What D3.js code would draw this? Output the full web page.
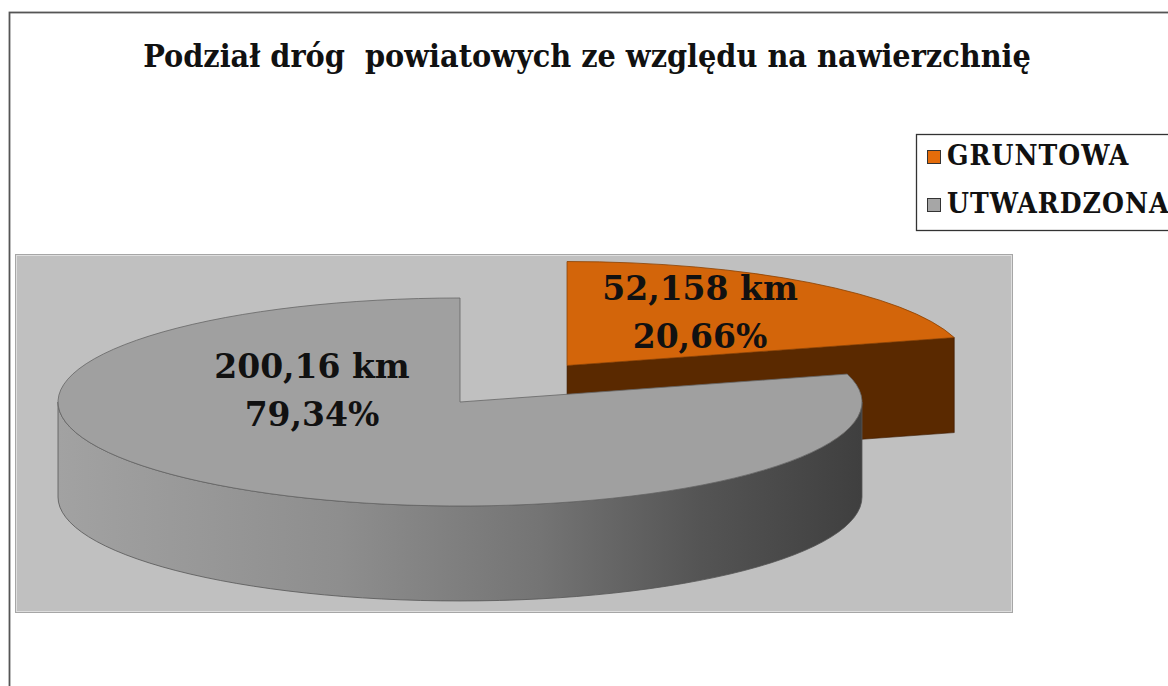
<!DOCTYPE html>
<html>
<head>
<meta charset="utf-8">
<script src="https://cdn.jsdelivr.net/npm/d3@7"></script>
<style>
  body { margin: 0; background: #fff; }
  svg { display: block; }
  text { font-family: "DejaVu Serif Condensed", "DejaVu Serif", serif; font-weight: bold; fill: #111; }
  .pieLabel { font-family: "DejaVu Serif", serif; }
</style>
</head>
<body>
<div id="chart"></div>
<script>
var chartTitle = "Podział dróg  powiatowych ze względu na nawierzchnię";
var categories = ["GRUNTOWA", "UTWARDZONA"];
var lengths = [52.158, 200.16];
var lengthLabels = ["52,158 km", "200,16 km"];
var percentLabels = ["20,66%", "79,34%"];

var width = 1168, height = 686;

var svg = d3.select("#chart").append("svg")
  .attr("width", width)
  .attr("height", height);

// colours per category
var topColor = d3.scaleOrdinal().domain(categories).range(["#d3650a", "#a0a0a0"]);
var sideColor = d3.scaleOrdinal().domain(categories).range(["#5a2900", "url(#wallGrad)"]);
var swatchColor = d3.scaleOrdinal().domain(categories).range(["#e46c0a", "#a6a6a6"]);

var defs = svg.append("defs");
var grad = defs.append("linearGradient")
  .attr("id", "wallGrad")
  .attr("gradientUnits", "userSpaceOnUse")
  .attr("x1", 58).attr("x2", 862).attr("y1", 0).attr("y2", 0);
[[0, "#a2a2a2"], [0.35, "#8e8e8e"], [0.6, "#747474"], [0.8, "#545454"], [1, "#3f3f3f"]].forEach(function (s) {
  grad.append("stop").attr("offset", s[0]).attr("stop-color", s[1]);
});

// chart area border (runs off the page on right / bottom)
svg.append("rect")
  .attr("x", 9.5).attr("y", 12.5)
  .attr("width", 1200).attr("height", 700)
  .attr("fill", "#fff").attr("stroke", "#555").attr("stroke-width", 1.8);

// title
svg.append("text")
  .attr("x", 587).attr("y", 67)
  .attr("text-anchor", "middle")
  .style("font-size", "32px")
  .style("white-space", "pre")
  .text(chartTitle);

// plot area
svg.append("rect")
  .attr("x", 15.5).attr("y", 254.5)
  .attr("width", 997).attr("height", 358)
  .attr("fill", "#c0c0c0").attr("stroke", "#a6a6a6");
svg.append("rect")
  .attr("x", 16.5).attr("y", 255.5)
  .attr("width", 995).attr("height", 356)
  .attr("fill", "none").attr("stroke", "#dedede");

// legend
var legend = svg.append("g");
legend.append("rect")
  .attr("x", 916.5).attr("y", 134.5)
  .attr("width", 300).attr("height", 96)
  .attr("fill", "#fff").attr("stroke", "#333").attr("stroke-width", 1.3);
var legendItem = legend.selectAll(".legendItem")
  .data(categories)
  .enter().append("g")
  .attr("class", "legendItem")
  .attr("transform", function (d, i) { return "translate(927," + (150 + i * 48) + ")"; });
legendItem.append("rect")
  .attr("x", 0.5).attr("y", 0.5)
  .attr("width", 13).attr("height", 13)
  .attr("fill", function (d) { return swatchColor(d); })
  .attr("stroke", "#333");
legendItem.append("text")
  .attr("x", 20).attr("y", 15)
  .style("font-size", "28px")
  .style("letter-spacing", "1px")
  .text(function (d) { return d; });

// 3D pie
var rx = 402, ry = 104, depth = 95, explode = 177;
var cx = 460, cy = 402;

var pie = d3.pie().sort(null).value(function (d) { return d; });
var arcs = pie(lengths);

function pt(a, c, dy) {
  return [c[0] + rx * Math.sin(a), c[1] - ry * Math.cos(a) + (dy || 0)];
}

arcs.forEach(function (d, i) {
  var mid = (d.startAngle + d.endAngle) / 2;
  var off = i === 0 ? explode : 0;
  d.center = [cx + off * Math.sin(mid), cy - off * (ry / rx) * Math.cos(mid)];
  d.cat = categories[i];
});

function topPath(d) {
  var s = pt(d.startAngle, d.center), e = pt(d.endAngle, d.center);
  var large = d.endAngle - d.startAngle > Math.PI ? 1 : 0;
  return "M" + d.center + "L" + s + "A" + rx + "," + ry + " 0 " + large + " 1 " + e + "Z";
}

// outer wall, visible only on the front half (PI/2 .. 3PI/2)
function wallPath(d) {
  var a0 = Math.max(d.startAngle, Math.PI / 2), a1 = Math.min(d.endAngle, 3 * Math.PI / 2);
  if (a1 <= a0) return null;
  var s = pt(a0, d.center), e = pt(a1, d.center);
  var sb = pt(a0, d.center, depth), eb = pt(a1, d.center, depth);
  return "M" + s + "A" + rx + "," + ry + " 0 0 1 " + e +
    "L" + eb + "A" + rx + "," + ry + " 0 0 0 " + sb + "Z";
}

// radial face at the end angle
function facePath(d) {
  var e = pt(d.endAngle, d.center);
  var eb = pt(d.endAngle, d.center, depth);
  var cb = [d.center[0], d.center[1] + depth];
  return "M" + d.center + "L" + e + "L" + eb + "L" + cb + "Z";
}

var pieG = svg.append("g");
arcs.forEach(function (d, i) {
  var g = pieG.append("g").attr("class", "slice");
  if (i === 0) {
    g.append("path").attr("d", facePath(d))
      .attr("fill", sideColor(d.cat)).attr("stroke", "#3a1a00").attr("stroke-width", 0.6);
  }
  var w = wallPath(d);
  if (w) {
    g.append("path").attr("d", w)
      .attr("fill", sideColor(d.cat)).attr("stroke", "#555").attr("stroke-width", 0.8);
  }
  g.append("path").attr("d", topPath(d))
    .attr("fill", topColor(d.cat))
    .attr("stroke", i === 0 ? "#8a4000" : "#666").attr("stroke-width", 0.8);
});

// labels: first baseline, then second line 48px lower
var labelOffsets = [[133, -66], [-148, -24]];
arcs.forEach(function (d, i) {
  var lx = d.center[0] + labelOffsets[i][0], ly = d.center[1] + labelOffsets[i][1];
  var t = pieG.append("text")
    .attr("class", "pieLabel")
    .attr("text-anchor", "middle")
    .style("font-size", "33px");
  t.append("tspan").attr("x", lx).attr("y", ly).style("white-space", "pre").text(lengthLabels[i]);
  t.append("tspan").attr("x", lx).attr("y", ly + 48).text(percentLabels[i]);
});
</script>
</body>
</html>
